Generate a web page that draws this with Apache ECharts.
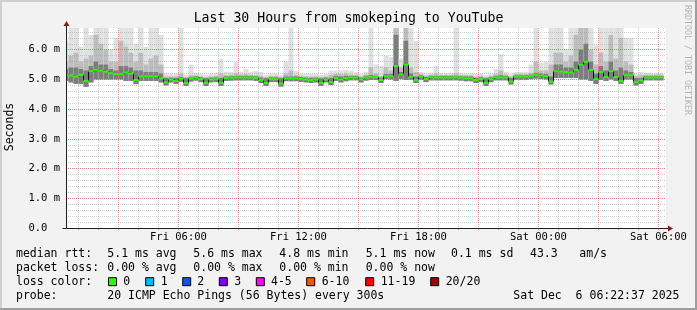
<!DOCTYPE html>
<html><head><meta charset="utf-8">
<script src="https://cdn.jsdelivr.net/npm/echarts@6/dist/echarts.min.js"></script>
<style>html,body{margin:0;padding:0;background:#f2f2f2}#c{width:697px;height:310px}</style>
</head><body><div id="c"></div>
<script>
// ---- time frame (hours since Fri 00:00) ----
const START_HOUR = 22/60 + 37/3600;      // Fri 00:22:37
const END_HOUR = START_HOUR + 30;         // Sat 06:22:37
const STEP_HOURS = 0.25;                  // one sample every 15 minutes
const Y_MAX = 6.73;                       // ms

const xLabelHours = [6, 12, 18, 24, 30];
const xLabelTexts = ['Fri 06:00', 'Fri 12:00', 'Fri 18:00', 'Sat 00:00', 'Sat 06:00'];
const minorGridHours = [1,2,4,5,7,8,10,11,13,14,16,17,19,20,22,23,25,26,28,29];
const majorGridHours = [3,6,9,12,15,18,21,24,27,30];

// ---- median RTT (ms) ----
const median = [
 5.15,5.13,5.10,5.15,4.95,5.28,5.32,5.30,5.26,5.21,
 5.18,5.18,5.23,5.20,4.98,5.10,5.11,5.11,5.11,5.03,
 4.90,5.00,4.95,5.02,4.88,5.03,5.06,5.01,4.88,5.00,
 5.01,4.88,5.05,5.06,5.07,5.07,5.07,5.07,5.05,4.98,
 4.88,5.01,5.01,4.86,5.04,5.04,5.04,5.02,5.00,4.98,
 5.00,4.88,5.00,4.91,5.05,5.00,5.04,5.07,5.07,5.00,
 5.06,5.08,5.08,4.98,5.11,5.11,5.45,5.17,5.49,5.09,
 4.98,5.09,5.01,5.07,5.07,5.07,5.07,5.07,5.07,5.06,
 5.04,5.04,4.98,5.01,4.88,5.01,5.07,5.07,5.07,4.93,
 5.09,5.09,5.09,5.11,5.15,5.13,5.11,4.93,5.28,5.26,
 5.25,5.24,5.32,5.49,5.59,5.32,5.01,5.25,5.08,5.28,
 5.08,4.95,5.14,5.14,4.91,4.96,5.07,5.07,5.07,5.07
];
// ---- smoke: lowest ping ----
const smokeLo = [
 4.95,4.90,4.85,4.85,4.75,4.90,5.00,5.00,5.00,5.00,
 5.00,5.00,4.95,4.95,4.85,4.95,4.95,4.95,4.95,4.90,
 4.80,4.90,4.85,4.92,4.78,4.93,4.96,4.91,4.78,4.90,
 4.91,4.78,4.95,4.96,4.97,4.97,4.97,4.97,4.95,4.88,
 4.78,4.91,4.91,4.76,4.94,4.94,4.94,4.92,4.90,4.88,
 4.90,4.78,4.90,4.81,4.95,4.90,4.94,4.97,4.97,4.90,
 4.96,4.98,4.98,4.88,5.01,5.00,4.95,5.02,4.98,4.99,
 4.88,4.99,4.91,4.97,4.97,4.97,4.97,4.97,4.97,4.96,
 4.94,4.94,4.88,4.91,4.78,4.91,4.97,4.97,4.97,4.83,
 4.99,4.99,4.99,5.01,5.03,5.02,5.00,4.83,5.05,5.05,
 5.05,5.05,5.05,5.00,5.00,4.95,4.85,4.98,4.95,5.00,
 4.95,4.85,5.00,5.00,4.80,4.85,4.97,4.97,4.97,4.97
];
// ---- smoke: dense core upper edge ----
const smokeInnerHi = [
 5.35,5.40,5.40,5.35,5.30,5.45,5.60,5.50,5.50,5.35,
 5.30,5.45,5.45,5.40,5.30,5.30,5.25,5.25,5.25,5.20,
 5.05,5.06,5.05,5.08,5.04,5.08,5.10,5.07,5.04,5.06,
 5.07,5.05,5.10,5.11,5.12,5.12,5.12,5.12,5.10,5.06,
 5.04,5.07,5.07,5.04,5.10,5.10,5.10,5.08,5.06,5.05,
 5.06,5.04,5.06,5.05,5.12,5.10,5.12,5.12,5.12,5.06,
 5.12,5.15,5.13,5.06,5.18,5.18,6.50,5.25,6.30,5.20,
 5.10,5.14,5.08,5.12,5.12,5.12,5.12,5.12,5.12,5.11,
 5.10,5.10,5.05,5.07,5.04,5.07,5.12,5.14,5.12,5.05,
 5.14,5.14,5.14,5.16,5.22,5.20,5.18,5.10,5.50,5.50,
 5.40,5.40,5.60,6.00,6.20,5.60,5.20,5.45,5.30,5.60,
 5.30,5.40,5.30,5.25,5.05,5.05,5.12,5.12,5.12,5.12
];
// ---- smoke: middle shade upper edge ----
const smokeMidHi = [
 5.60,5.80,5.90,5.60,5.70,5.80,6.50,6.20,6.00,5.60,
 5.60,6.30,6.10,5.90,5.60,5.90,5.50,5.70,5.80,5.50,
 5.10,5.10,5.10,5.20,5.08,5.15,5.14,5.10,5.08,5.10,
 5.12,5.20,5.15,5.16,5.20,5.16,5.18,5.16,5.15,5.12,
 5.08,5.12,5.12,5.08,5.20,5.30,5.15,5.12,5.10,5.10,
 5.10,5.08,5.10,5.15,5.18,5.18,5.20,5.16,5.15,5.10,
 5.16,5.40,5.20,5.12,5.40,5.30,6.73,5.40,6.73,5.40,
 5.25,5.18,5.12,5.15,5.20,5.15,5.15,5.15,5.20,5.15,
 5.14,5.14,5.10,5.12,5.08,5.12,5.18,5.30,5.16,5.10,
 5.18,5.18,5.18,5.22,5.60,5.30,5.30,5.50,5.90,5.90,
 5.60,5.80,6.50,6.73,6.73,6.00,5.50,5.90,5.60,6.50,
 5.70,6.40,5.60,5.50,5.12,5.15,5.16,5.16,5.16,5.16
];
// ---- smoke: highest ping ----
const smokeHi = [
 6.30,6.73,6.73,6.10,6.73,6.50,6.73,6.73,6.73,6.00,
 6.40,6.73,6.73,6.73,6.20,6.73,6.10,6.73,6.73,6.50,
 5.20,5.18,5.20,6.73,5.15,5.50,5.22,5.18,5.15,5.18,
 5.20,5.70,5.25,5.25,5.58,5.25,5.35,5.25,5.28,5.25,
 5.15,5.20,5.20,5.15,5.60,6.73,5.28,5.20,5.18,5.18,
 5.18,5.15,5.18,5.30,5.30,5.30,5.32,5.30,5.25,5.18,
 5.25,6.73,5.50,5.45,5.80,5.75,6.73,5.70,6.73,6.73,
 6.30,5.25,5.20,5.22,5.45,5.22,5.22,5.22,6.73,5.22,
 5.20,5.20,5.18,5.20,5.15,5.20,5.35,5.85,5.25,5.18,
 5.25,5.25,5.25,5.50,6.73,5.55,5.60,6.73,6.73,6.73,
 6.00,6.73,6.73,6.73,6.73,6.73,6.15,6.73,6.73,6.73,
 6.73,6.73,6.40,6.40,5.20,5.25,5.22,5.22,5.22,5.22
];

// ---- legend texts ----
const titleText = 'Last 30 Hours from smokeping to YouTube';
const rowLabels = ['median rtt:', 'packet loss:', 'loss color:', 'probe:'];
const rttStats = ['5.1 ms avg', '5.6 ms max', '4.8 ms min', '5.1 ms now', '0.1 ms sd', '43.3', 'am/s'];
const lossStats = ['0.00 % avg', '0.00 % max', '0.00 % min', '0.00 % now'];
const lossLabels = ['0', '1', '2', '3', '4-5', '6-10', '11-19', '20/20'];
const lossColors = ['#26ff00', '#00b8ff', '#0059ff', '#7e00ff', '#ff00ff', '#ff5500', '#ff0000', '#a10000'];
const probeText = '20 ICMP Echo Pings (56 Bytes) every 300s';
const dateText = 'Sat Dec  6 06:22:37 2025';
const yAxisName = 'Seconds';
const creditText = 'RRDTOOL / TOBI OETIKER';

// ---- build ----
const MONO = '"DejaVu Sans Mono", monospace';
const times = median.map((_, i) => START_HOUR + i * STEP_HOURS);
const pairs = arr => arr.map((v, i) => [times[i], v]);
const smokeRows = times.map((t, i) => [t, smokeLo[i], smokeInnerHi[i], smokeMidHi[i], smokeHi[i]]);

const GRID_GRAY = 'rgba(150,150,150,0.45)';
const GRID_RED = 'rgba(235,70,70,0.5)';
const SMOKE_COLORS = ['#e0e0e0', '#bdbdbd', '#7c7c7c'];

const chart = echarts.init(document.getElementById('c'), null, {renderer: 'canvas', width: 697, height: 310});

function smokeItem(params, api) {
  const h = api.value(0), lo = api.value(1);
  const tops = [api.value(4), api.value(3), api.value(2)];
  const children = tops.map((top, k) => {
    const p1 = api.coord([h - STEP_HOURS / 2, top]);
    const p2 = api.coord([h + STEP_HOURS / 2, lo]);
    return {type: 'rect', shape: {x: p1[0], y: p1[1], width: p2[0] - p1[0], height: p2[1] - p1[1]},
            style: {fill: SMOKE_COLORS[k]}};
  });
  return {type: 'group', children: children};
}

const series = [
  {type: 'custom', z: 2, silent: true, animation: false, clip: true,
   encode: {x: 0, y: [1, 2, 3, 4]}, data: smokeRows, renderItem: smokeItem},
  {type: 'line', step: 'middle', data: pairs(median), symbol: 'none', z: 4, silent: true, animation: false,
   lineStyle: {color: '#111', width: 1}},
  {type: 'custom', z: 5, silent: true, animation: false, clip: true, data: pairs(median),
   renderItem: function (params, api) {
     const h = api.value(0), v = api.value(1);
     const p1 = api.coord([h - STEP_HOURS / 2, v]);
     const p2 = api.coord([h + STEP_HOURS / 2, v]);
     return {type: 'line', shape: {x1: p1[0], y1: p1[1], x2: p2[0], y2: p2[1]},
             style: {stroke: '#26ff00', lineWidth: 2}};
   }}
];

chart.setOption({
  backgroundColor: '#f2f2f2',
  animation: false,
  grid: {left: 66, top: 28, width: 600, height: 200, show: true, backgroundColor: '#ffffff', borderWidth: 0},
  xAxis: {
    type: 'value', min: START_HOUR, max: END_HOUR, z: 3,
    axisLine: {show: false}, splitLine: {show: false},
    axisTick: {show: true, customValues: minorGridHours.concat(majorGridHours), length: 2, lineStyle: {color: '#d9a0a0'}},
    axisLabel: {customValues: xLabelHours, margin: 4, fontFamily: MONO, fontSize: 10.5, color: '#000',
      formatter: v => xLabelTexts[xLabelHours.indexOf(Math.round(v))] || ''}
  },
  yAxis: [
    {type: 'value', min: 0, max: Y_MAX, interval: 1, z: 4,
     axisLine: {show: false}, axisTick: {show: false},
     splitLine: {show: true, showMinLine: false, showMaxLine: false, lineStyle: {color: GRID_RED, type: [1, 1]}},
     axisLabel: {showMaxLabel: false, margin: 6, fontFamily: MONO, fontSize: 10.5, color: '#000',
       formatter: v => v === 0 ? '0.0  ' : v.toFixed(1) + ' m'}},
    {type: 'value', min: 0, max: Y_MAX, interval: 0.2, z: 3,
     axisLine: {show: false}, axisTick: {show: false}, axisLabel: {show: false},
     splitLine: {show: true, showMinLine: false, showMaxLine: false, lineStyle: {color: GRID_GRAY, type: [1, 1]}}}
  ],
  series: series
});

// ---- overlay: frame, grid verticals, axes, arrows, texts ----
const o = chart.convertToPixel({xAxisIndex: 0, yAxisIndex: 0}, [START_HOUR, 0]);
const e = chart.convertToPixel({xAxisIndex: 0, yAxisIndex: 0}, [END_HOUR, Y_MAX]);
const ax = Math.round(o[0]) + 0.5, ay = Math.round(o[1]) + 0.5;
const ex = e[0], ey = e[1];

const txt = (x, y, text, extra) => Object.assign({type: 'text', z: 20, silent: true,
  style: {x: x, y: y, text: text, font: '11.5px ' + MONO, fill: '#000', textAlign: 'left', textVerticalAlign: 'middle'}}, extra || {});

const g = [];
// vertical grid lines (positions from the x axis scale)
const vline = (h, color) => {
  const px = Math.floor(chart.convertToPixel({xAxisIndex: 0}, h)) + 0.5;
  return {type: 'line', z: 3, silent: true, shape: {x1: px, y1: Math.round(ey), x2: px, y2: ay + 2},
          style: {stroke: color, lineWidth: 1, lineDash: [1, 1]}};
};
minorGridHours.forEach(h => g.push(vline(h, GRID_GRAY)));
majorGridHours.forEach(h => g.push(vline(h, GRID_RED)));

g.push({type: 'rect', z: 20, silent: true, shape: {x: 0, y: 0, width: 697, height: 2}, style: {fill: '#cfcfcf'}});
g.push({type: 'rect', z: 20, silent: true, shape: {x: 0, y: 0, width: 2, height: 310}, style: {fill: '#cfcfcf'}});
g.push({type: 'rect', z: 20, silent: true, shape: {x: 0, y: 308, width: 697, height: 2}, style: {fill: '#9e9e9e'}});
g.push({type: 'rect', z: 20, silent: true, shape: {x: 695, y: 0, width: 2, height: 310}, style: {fill: '#9e9e9e'}});
g.push({type: 'line', z: 20, silent: true, shape: {x1: ax, y1: ay, x2: ex + 2, y2: ay}, style: {stroke: '#1f1f1f', lineWidth: 1}});
g.push({type: 'line', z: 20, silent: true, shape: {x1: ax, y1: ay, x2: ax, y2: ey - 2}, style: {stroke: '#1f1f1f', lineWidth: 1}});
g.push({type: 'polygon', z: 21, silent: true, shape: {points: [[ex + 2, ay - 3], [ex + 2, ay + 3], [ex + 7, ay]]}, style: {fill: '#801f1f'}});
g.push({type: 'polygon', z: 21, silent: true, shape: {points: [[ax - 3, ey - 2], [ax + 3, ey - 2], [ax, ey - 7]]}, style: {fill: '#801f1f'}});
g.push({type: 'line', z: 20, silent: true, shape: {x1: ax - 4, y1: ay, x2: ax, y2: ay}, style: {stroke: '#1f1f1f', lineWidth: 1}});
g.push({type: 'text', z: 20, silent: true, style: {x: 348.5, y: 19, text: titleText, font: '13.2px ' + MONO, fill: '#000', textAlign: 'center', textVerticalAlign: 'middle'}});
g.push({type: 'text', z: 20, silent: true, x: 10.5, y: 127, rotation: Math.PI / 2,
  style: {x: 0, y: 0, text: yAxisName, font: '11.5px ' + MONO, fill: '#000', textAlign: 'center', textVerticalAlign: 'middle'}});
g.push({type: 'text', z: 20, silent: true, x: 687, y: 5, rotation: -Math.PI / 2,
  style: {x: 0, y: 0, text: creditText, font: '8.3px ' + MONO, fill: '#b4b4b4', textAlign: 'left', textVerticalAlign: 'middle'}});

const rowY = [254, 267.8, 281.7, 295.6];
rowLabels.forEach((t, i) => g.push(txt(16, rowY[i], t)));
const rttX = [107.3, 193.3, 279.3, 365.7, 451, 530, 579.3];
rttStats.forEach((t, i) => g.push(txt(rttX[i], rowY[0], t)));
lossStats.forEach((t, i) => g.push(txt(rttX[i], rowY[1], t)));
const boxX = [108.5, 145.7, 182.7, 219.3, 256.3, 306.7, 365.7, 430.7];
const lblX = [123.3, 160.7, 197.3, 234.3, 271, 321.7, 380.7, 445.7];
lossLabels.forEach((t, i) => {
  g.push({type: 'rect', z: 20, silent: true, shape: {x: boxX[i], y: rowY[2] - 4, width: 8, height: 8},
          style: {fill: lossColors[i], stroke: '#000', lineWidth: 1}});
  g.push(txt(lblX[i], rowY[2], t));
});
g.push(txt(107.3, rowY[3], probeText));
g.push(txt(513.3, rowY[3], dateText));

chart.setOption({graphic: {elements: g}});
</script>
</body></html>
